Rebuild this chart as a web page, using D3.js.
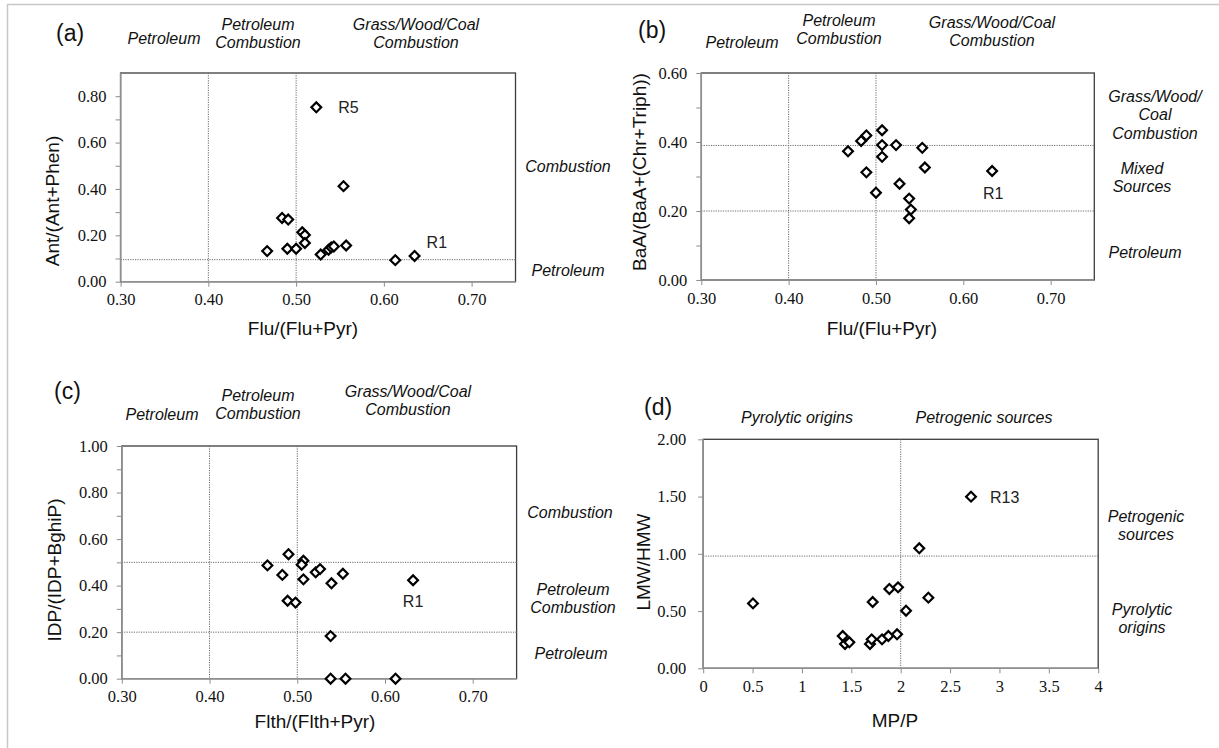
<!DOCTYPE html>
<html lang="en">
<head>
<meta charset="utf-8">
<title>PAH diagnostic ratios</title>
<script src="https://cdn.jsdelivr.net/npm/d3@7"></script>
<style>
body { margin: 0; background: #fff; }
.title { font-family: "Liberation Sans", Arial, sans-serif; font-size: 19px; fill: #111; }
.region { font-family: "Liberation Sans", Arial, sans-serif; font-size: 16px; font-style: italic; fill: #111; }
.tag { font-family: "Liberation Sans", Arial, sans-serif; font-size: 23px; fill: #111; }
.note { font-family: "Liberation Sans", Arial, sans-serif; font-size: 16px; fill: #222; }
</style>
</head>
<body>
<script>
// values, one array per series
// (a) Flu/(Flu+Pyr) vs Ant/(Ant+Phen)
var fluA = [0.523, 0.554, 0.484, 0.491, 0.507, 0.510, 0.510, 0.467, 0.490, 0.500, 0.528, 0.537, 0.540, 0.543, 0.557, 0.613, 0.635];
var antA = [0.752, 0.412, 0.275, 0.268, 0.213, 0.201, 0.167, 0.132, 0.142, 0.142, 0.117, 0.138, 0.148, 0.152, 0.156, 0.093, 0.111];
// (b) Flu/(Flu+Pyr) vs BaA/(BaA+(Chr+Triph))
var fluB = [0.468, 0.483, 0.489, 0.507, 0.507, 0.507, 0.523, 0.553, 0.556, 0.489, 0.527, 0.500, 0.538, 0.540, 0.538, 0.633];
var baaB = [0.373, 0.403, 0.419, 0.434, 0.391, 0.357, 0.391, 0.383, 0.326, 0.312, 0.279, 0.253, 0.236, 0.204, 0.179, 0.316];
// (c) Flth/(Flth+Pyr) vs IDP/(IDP+BghiP)
var flthC = [0.490, 0.466, 0.483, 0.507, 0.505, 0.507, 0.521, 0.526, 0.539, 0.552, 0.632, 0.489, 0.498, 0.538, 0.538, 0.555, 0.612];
var idpC = [0.535, 0.487, 0.446, 0.507, 0.490, 0.427, 0.457, 0.471, 0.410, 0.451, 0.423, 0.335, 0.327, 0.183, 0.000, 0.000, 0.000];
// (d) MP/P vs LMW/HMW
var mpD = [2.712, 2.188, 1.885, 1.973, 2.280, 1.716, 2.054, 1.413, 1.436, 1.480, 1.689, 1.706, 1.811, 1.875, 1.963, 0.504];
var lmwD = [1.499, 1.048, 0.693, 0.707, 0.617, 0.579, 0.503, 0.282, 0.212, 0.227, 0.212, 0.253, 0.253, 0.282, 0.297, 0.567];

// tick values
var ratioTicks = [0.30, 0.40, 0.50, 0.60, 0.70];
var mpTicks = [0, 0.5, 1, 1.5, 2, 2.5, 3, 3.5, 4];
var antTicks = [0, 0.2, 0.4, 0.6, 0.8], antMinor = [0.1, 0.3, 0.5, 0.7];
var baaTicks = [0, 0.2, 0.4, 0.6], baaMinor = [0.1, 0.3, 0.5];
var idpTicks = [0, 0.2, 0.4, 0.6, 0.8, 1.0], idpMinor = [0.1, 0.3, 0.5, 0.7, 0.9];
var lmwTicks = [0, 0.5, 1.0, 1.5, 2.0];

// source thresholds
var aCuts = {v: [0.40, 0.50], h: [0.095]};
var bCuts = {v: [0.40, 0.50], h: [0.39, 0.20]};
var cCuts = {v: [0.40, 0.50], h: [0.50, 0.20]};
var dCuts = {v: [2.0], h: [0.98]};

var w = 1219, h = 748;
var f2 = d3.format(".2f");
var serif = "'Liberation Serif', 'Times New Roman', Times, serif";

var svg = d3.select("body").append("svg")
    .attr("width", w)
    .attr("height", h);

// faint page frame
svg.append("line").attr("x1", 7).attr("x2", w).attr("y1", 4.5).attr("y2", 4.5)
    .attr("stroke", "#c8c8c8").attr("stroke-width", 1.5);
svg.append("line").attr("x1", 7.5).attr("x2", 7.5).attr("y1", 4).attr("y2", h)
    .attr("stroke", "#c8c8c8").attr("stroke-width", 1.5);

var panels = [
  {tag: "(a)", tagPos: [56, 33], xs: fluA, ys: antA, box: [120.6, 73, 515.5, 281.7],
   xDom: [0.3, 0.75], yDom: [0, 0.9], xTicks: ratioTicks, yTicks: antTicks, yMinor: antMinor,
   xFmt: f2, yFmt: f2, cuts: aCuts, pad: 9,
   xTitle: ["Flu/(Flu+Pyr)", 303, 328], yTitle: ["Ant/(Ant+Phen)", 52, 201],
   regions: [
     [["Petroleum"], 164, 38],
     [["Petroleum", "Combustion"], 258, 24],
     [["Grass/Wood/Coal", "Combustion"], 416, 24],
     [["Combustion"], 568, 166],
     [["Petroleum"], 568, 270]],
   notes: [["R5", 0, 22, 0, "start"], ["R1", 16, 12, -14, "start"]]},
  {tag: "(b)", tagPos: [638, 30], xs: fluB, ys: baaB, box: [701.3, 73, 1094.3, 280],
   xDom: [0.3, 0.75], yDom: [0, 0.6], xTicks: ratioTicks, yTicks: baaTicks, yMinor: baaMinor,
   xFmt: f2, yFmt: f2, cuts: bCuts, pad: 9,
   xTitle: ["Flu/(Flu+Pyr)", 882, 328], yTitle: ["BaA/(BaA+(Chr+Triph))", 639, 172],
   regions: [
     [["Petroleum"], 742, 42],
     [["Petroleum", "Combustion"], 839, 20],
     [["Grass/Wood/Coal", "Combustion"], 992, 22],
     [["Grass/Wood/", "Coal", "Combustion"], 1155, 96],
     [["Mixed", "Sources"], 1142, 168],
     [["Petroleum"], 1145, 252]],
   notes: [["R1", 15, 1, 22, "middle"]]},
  {tag: "(c)", tagPos: [54, 391], xs: flthC, ys: idpC, box: [121.8, 446, 516.6, 678.7],
   xDom: [0.3, 0.75], yDom: [0, 1.0], xTicks: ratioTicks, yTicks: idpTicks, yMinor: idpMinor,
   xFmt: f2, yFmt: f2, cuts: cCuts, pad: 9,
   xTitle: ["Flth/(Flth+Pyr)", 315, 721], yTitle: ["IDP/(IDP+BghiP)", 54, 570],
   regions: [
     [["Petroleum"], 162, 414],
     [["Petroleum", "Combustion"], 258, 395],
     [["Grass/Wood/Coal", "Combustion"], 408, 391],
     [["Combustion"], 570, 512],
     [["Petroleum", "Combustion"], 573, 589],
     [["Petroleum"], 571, 653]],
   notes: [["R1", 10, 0, 21, "middle"]]},
  {tag: "(d)", tagPos: [644, 407], xs: mpD, ys: lmwD, box: [703.2, 439.3, 1098.2, 668.3],
   xDom: [0, 4], yDom: [0, 2], xTicks: mpTicks, yTicks: lmwTicks, yMinor: [],
   xFmt: d3.format(""), yFmt: f2, cuts: dCuts, pad: 12,
   xTitle: ["MP/P", 895, 720], yTitle: ["LMW/HMW", 643, 562],
   regions: [
     [["Pyrolytic origins"], 797, 417],
     [["Petrogenic sources"], 984, 417],
     [["Petrogenic", "sources"], 1146, 516],
     [["Pyrolytic", "origins"], 1142, 609]],
   notes: [["R13", 0, 19, 1, "start"]]}
];

var diamond = d3.symbol().type(d3.symbolSquare).size(48);

panels.forEach(function(p) {
    var x = d3.scaleLinear().domain(p.xDom).range([p.box[0], p.box[2]]);
    var y = d3.scaleLinear().domain(p.yDom).range([p.box[3], p.box[1]]);
    var g = svg.append("g");

    // plot frame
    g.append("rect")
        .attr("x", p.box[0]).attr("y", p.box[1])
        .attr("width", p.box[2] - p.box[0]).attr("height", p.box[3] - p.box[1])
        .attr("fill", "none").attr("stroke", "#3c3c3c").attr("stroke-width", 1.3);

    // threshold lines
    g.selectAll(".vcut").data(p.cuts.v).enter().append("line")
        .attr("x1", function(d) { return x(d); }).attr("x2", function(d) { return x(d); })
        .attr("y1", p.box[1]).attr("y2", p.box[3])
        .attr("stroke", "#6a6a6a").attr("stroke-width", 1).attr("stroke-dasharray", "1.2,1.2");
    g.selectAll(".hcut").data(p.cuts.h).enter().append("line")
        .attr("x1", p.box[0]).attr("x2", p.box[2])
        .attr("y1", function(d) { return y(d); }).attr("y2", function(d) { return y(d); })
        .attr("stroke", "#6a6a6a").attr("stroke-width", 1).attr("stroke-dasharray", "1.2,1.2");

    // axes
    var xa = g.append("g").attr("transform", "translate(0," + p.box[3] + ")")
        .call(d3.axisBottom(x).tickValues(p.xTicks).tickFormat(p.xFmt).tickSize(5).tickPadding(7));
    var ya = g.append("g").attr("transform", "translate(" + p.box[0] + ",0)")
        .call(d3.axisLeft(y).tickValues(p.yTicks).tickFormat(p.yFmt).tickSize(5).tickPadding(p.pad));
    var ym = g.append("g").attr("transform", "translate(" + p.box[0] + ",0)")
        .call(d3.axisLeft(y).tickValues(p.yMinor).tickFormat("").tickSize(5));
    [xa, ya, ym].forEach(function(a) {
        a.select(".domain").remove();
        a.selectAll(".tick line").attr("stroke", "#8c8c8c");
        a.selectAll(".tick text")
            .style("font-family", serif)
            .style("font-size", "16.5px")
            .attr("fill", "#111");
    });
    g.append("line").attr("x1", p.box[0]).attr("x2", p.box[0])
        .attr("y1", p.box[1]).attr("y2", p.box[3]).attr("stroke", "#909090").attr("stroke-width", 1.5);
    g.append("line").attr("x1", p.box[0]).attr("x2", p.box[2])
        .attr("y1", p.box[3]).attr("y2", p.box[3]).attr("stroke", "#909090").attr("stroke-width", 1.5);

    // points
    g.selectAll(".pt").data(p.xs).enter().append("path")
        .attr("d", diamond)
        .attr("transform", function(d, i) {
            return "translate(" + x(d) + "," + y(p.ys[i]) + ") rotate(45)";
        })
        .attr("fill", "#fff").attr("stroke", "#000").attr("stroke-width", 2.2);

    // point labels
    p.notes.forEach(function(n) {
        g.append("text").attr("class", "note")
            .attr("x", x(p.xs[n[1]]) + n[2]).attr("y", y(p.ys[n[1]]) + n[3])
            .attr("dy", "0.35em").attr("text-anchor", n[4]).text(n[0]);
    });

    // axis titles and tag
    g.append("text").attr("class", "title").attr("text-anchor", "middle")
        .attr("x", p.xTitle[1]).attr("y", p.xTitle[2]).attr("dy", "0.35em").text(p.xTitle[0]);
    g.append("text").attr("class", "title").attr("text-anchor", "middle")
        .attr("transform", "translate(" + p.yTitle[1] + "," + p.yTitle[2] + ") rotate(-90)")
        .attr("dy", "0.35em").text(p.yTitle[0]);
    g.append("text").attr("class", "tag")
        .attr("x", p.tagPos[0]).attr("y", p.tagPos[1]).attr("dy", "0.35em").text(p.tag);

    // source region labels
    p.regions.forEach(function(r) {
        var t = g.append("text").attr("class", "region").attr("text-anchor", "middle");
        r[0].forEach(function(line, k) {
            t.append("tspan").attr("x", r[1]).attr("y", r[2] + k * 18.5)
                .attr("dy", "0.35em").text(line);
        });
    });
});
</script>
</body>
</html>
